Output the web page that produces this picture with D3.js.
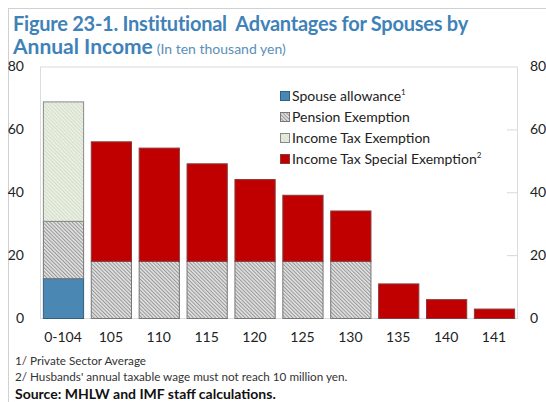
<!DOCTYPE html>
<html>
<head>
<meta charset="utf-8">
<script src="https://cdn.jsdelivr.net/npm/d3@7"></script>
<style>
  html, body { margin: 0; padding: 0; background: #fff; }
  svg { display: block; }
  text { font-family: Lato, "Open Sans", sans-serif; }
</style>
</head>
<body>
<svg id="chart" width="546" height="402"></svg>
<script>
// Income brackets of the spouse (ten thousand yen)
const categories = ["0-104", "105", "110", "115", "120", "125", "130", "135", "140", "141"];

// Stacked components, ten thousand yen
const spouseAllowance        = [12.7, 0, 0, 0, 0, 0, 0, 0, 0, 0];
const pensionExemption       = [18.2, 18.2, 18.2, 18.2, 18.2, 18.2, 18.2, 0, 0, 0];
const incomeTaxExemption     = [38, 0, 0, 0, 0, 0, 0, 0, 0, 0];
const incomeTaxSpecialExempt = [0, 38, 36, 31, 26, 21, 16, 11, 6, 3];

const yTicks = [0, 20, 40, 60, 80];

const seriesNames = [
  { key: "spouse",  label: "Spouse allowance", sup: "1" },
  { key: "pension", label: "Pension Exemption", sup: "" },
  { key: "itax",    label: "Income Tax Exemption", sup: "" },
  { key: "special", label: "Income Tax Special Exemption", sup: "2" }
];

const rows = categories.map((c, i) => ({
  cat: c,
  spouse: spouseAllowance[i],
  pension: pensionExemption[i],
  itax: incomeTaxExemption[i],
  special: incomeTaxSpecialExempt[i]
}));

const svg = d3.select("#chart");

// Fine diagonal hatch patterns
const defs = svg.append("defs");
const pen = defs.append("pattern").attr("id", "hatchPension")
  .attr("patternUnits", "userSpaceOnUse").attr("width", 2.6).attr("height", 2.6)
  .attr("patternTransform", "rotate(-45)");
pen.append("rect").attr("width", 2.6).attr("height", 2.6).attr("fill", "#e2e2e2");
pen.append("rect").attr("width", 1).attr("height", 2.6).attr("fill", "#969696");

const itx = defs.append("pattern").attr("id", "hatchIncome")
  .attr("patternUnits", "userSpaceOnUse").attr("width", 2.6).attr("height", 2.6)
  .attr("patternTransform", "rotate(-45)");
itx.append("rect").attr("width", 2.6).attr("height", 2.6).attr("fill", "#e9f0e1");
itx.append("rect").attr("width", 0.9).attr("height", 2.6).attr("fill", "#d3dcca");

const fills = {
  spouse: "#4a87b2",
  pension: "url(#hatchPension)",
  itax: "url(#hatchIncome)",
  special: "#c00000"
};
const strokes = {
  spouse: "#2f5f82",
  pension: "#777",
  itax: "#8a8a8a",
  special: "#8a3a3a"
};

// Outer figure frame
svg.append("rect").attr("x", 8.5).attr("y", 8.5).attr("width", 600).attr("height", 500)
  .attr("fill", "none").attr("stroke", "#d0d0d0");

// Title
svg.append("text").attr("x", 13).attr("y", 31)
  .attr("fill", "#3f82b8").attr("font-weight", "bold").attr("font-size", 20)
  .attr("letter-spacing", -0.25)
  .text("Figure 23-1. Institutional\u00a0 Advantages for Spouses by");
const t2 = svg.append("text").attr("x", 13).attr("y", 54).attr("fill", "#3f82b8");
t2.append("tspan").attr("font-weight", "bold").attr("font-size", 21).text("Annual Income");
t2.append("tspan").attr("font-size", 14).attr("fill", "#5a8fb8").attr("dx", 4).text("(In ten thousand yen)");

// Scales
const plot = { left: 40, right: 517, top: 66.5, bottom: 318 };
const x = d3.scaleBand().domain(categories).range([plot.left, plot.right])
  .paddingInner(0.16).paddingOuter(0.06);
const y = d3.scaleLinear().domain([0, 80]).range([plot.bottom, plot.top]);

// Plot frame
svg.append("rect").attr("x", plot.left + 0.5).attr("y", plot.top + 0.5)
  .attr("width", plot.right - plot.left).attr("height", plot.bottom - plot.top)
  .attr("fill", "none").attr("stroke", "#dcdcdc");

// Stacked bars
const stack = d3.stack().keys(["spouse", "pension", "itax", "special"]);
const layers = stack(rows);
svg.append("g").selectAll("g").data(layers).join("g")
  .attr("fill", d => fills[d.key]).attr("stroke", d => strokes[d.key]).attr("stroke-width", 1)
  .selectAll("rect").data(d => d.filter(s => s[1] - s[0] > 0)).join("rect")
  .attr("x", d => x(d.data.cat) + 0.5)
  .attr("width", x.bandwidth())
  .attr("y", d => y(d[1]) + 0.5)
  .attr("height", d => y(d[0]) - y(d[1]));

// Left axis labels
const axisL = d3.axisLeft(y).tickValues(yTicks).tickSize(0).tickPadding(0);
const gL = svg.append("g").attr("transform", "translate(24,0)").call(axisL);
gL.select(".domain").remove();
gL.selectAll("text").attr("font-family", "Lato, 'Open Sans', sans-serif").attr("font-size", 14).attr("fill", "#222");

// Right axis: short inward ticks and labels
const axisR = d3.axisRight(y).tickValues(yTicks).tickSize(0).tickPadding(0);
const gR = svg.append("g").attr("transform", "translate(530,0)").call(axisR);
gR.select(".domain").remove();
gR.selectAll("text").attr("font-family", "Lato, 'Open Sans', sans-serif").attr("font-size", 14).attr("fill", "#222");
svg.append("g").selectAll("line").data(yTicks.slice(1, 4)).join("line")
  .attr("x1", plot.right - 10).attr("x2", plot.right)
  .attr("y1", d => y(d) + 0.5).attr("y2", d => y(d) + 0.5)
  .attr("stroke", "#d8d8d8");

// Category axis
const axisB = d3.axisBottom(x).tickSize(0).tickPadding(0);
const gB = svg.append("g").attr("transform", `translate(0,${plot.bottom + 14})`).call(axisB);
gB.select(".domain").remove();
gB.selectAll("text").attr("font-family", "Lato, 'Open Sans', sans-serif").attr("font-size", 14).attr("fill", "#222");

// Legend
const legend = svg.append("g");
seriesNames.forEach((s, i) => {
  const ly = 96 + i * 21;
  legend.append("rect").attr("x", 280.5).attr("y", ly - 4.5).attr("width", 9).attr("height", 9)
    .attr("fill", fills[s.key]).attr("stroke", strokes[s.key]);
  const t = legend.append("text").attr("x", 292).attr("y", ly + 5)
    .attr("font-size", 14).attr("fill", "#222").text(s.label);
  if (s.sup) t.append("tspan").attr("font-size", 8).attr("dy", -6).text(s.sup);
});

// Notes and source
svg.append("text").attr("x", 15).attr("y", 365).attr("font-size", 11.7).attr("fill", "#333")
  .text("1/ Private Sector Average");
svg.append("text").attr("x", 15).attr("y", 381).attr("font-size", 11.7).attr("fill", "#333")
  .text("2/ Husbands' annual taxable wage must not reach 10 million yen.");
svg.append("text").attr("x", 15).attr("y", 399).attr("font-size", 14).attr("font-weight", "bold").attr("fill", "#111")
  .text("Source: MHLW and IMF staff calculations.");
</script>
</body>
</html>
